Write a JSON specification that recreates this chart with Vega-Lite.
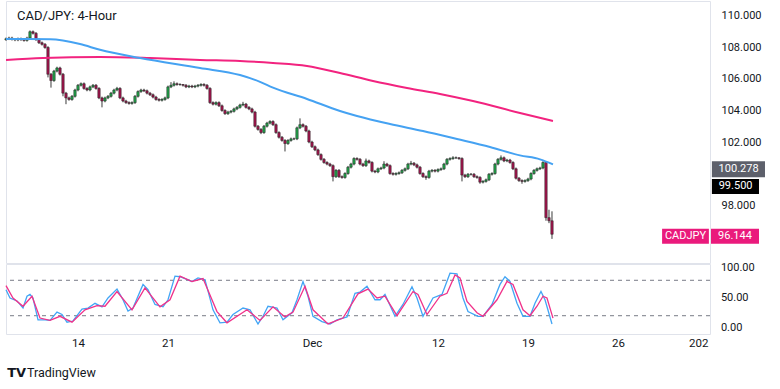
{
  "$schema": "https://vega.github.io/schema/vega-lite/v6.json",
  "background": "white",
  "padding": {"left": 1, "top": 0, "right": 10, "bottom": 5},
  "spacing": 1,
  "bounds": "flush",
  "config": {
    "view": {"stroke": "#e0e3eb", "strokeWidth": 1},
    "font": "Roboto",
    "scale": {"continuousPadding": 0},
    "axis": {"labelFont": "Roboto", "labelFontSize": 11, "labelColor": "#131722", "domain": false, "ticks": false, "tickSize": 0, "grid": false, "labelOverlap": false}
  },
  "datasets": {
    "candles": [
{"i":-24,"o":108.5,"h":108.63,"l":108.42,"c":108.55},
{"i":-23,"o":108.55,"h":108.68,"l":108.47,"c":108.6},
{"i":-22,"o":108.6,"h":108.68,"l":108.44,"c":108.52},
{"i":-21,"o":108.52,"h":108.6,"l":108.4,"c":108.48},
{"i":-20,"o":108.48,"h":108.63,"l":108.4,"c":108.55},
{"i":-19,"o":108.55,"h":108.63,"l":108.42,"c":108.5},
{"i":-18,"o":108.5,"h":108.58,"l":108.37,"c":108.45},
{"i":-17,"o":108.45,"h":108.68,"l":108.37,"c":108.6},
{"i":-16,"o":108.6,"h":109.08,"l":108.52,"c":109.0},
{"i":-15,"o":109.0,"h":109.08,"l":108.82,"c":108.9},
{"i":-14,"o":108.9,"h":108.98,"l":108.42,"c":108.5},
{"i":-13,"o":108.5,"h":108.58,"l":108.22,"c":108.3},
{"i":-12,"o":108.3,"h":108.38,"l":108.12,"c":108.2},
{"i":-11,"o":108.2,"h":108.28,"l":107.92,"c":108.0},
{"i":-10,"o":108.0,"h":108.08,"l":106.1,"c":106.3},
{"i":-9,"o":106.3,"h":106.38,"l":105.45,"c":105.9},
{"i":-8,"o":105.9,"h":106.58,"l":105.82,"c":106.5},
{"i":-7,"o":106.5,"h":106.78,"l":106.42,"c":106.7},
{"i":-6,"o":106.7,"h":106.78,"l":106.22,"c":106.3},
{"i":-5,"o":106.3,"h":106.38,"l":104.9,"c":105.1},
{"i":-4,"o":105.1,"h":105.18,"l":104.4,"c":104.8},
{"i":-3,"o":104.8,"h":104.88,"l":104.62,"c":104.7},
{"i":-2,"o":104.7,"h":104.98,"l":104.62,"c":104.9},
{"i":-1,"o":104.9,"h":105.38,"l":104.82,"c":105.3},
{"i":0,"o":105.3,"h":105.68,"l":105.22,"c":105.6},
{"i":1,"o":105.6,"h":105.78,"l":105.52,"c":105.7},
{"i":2,"o":105.7,"h":105.78,"l":105.32,"c":105.4},
{"i":3,"o":105.4,"h":105.48,"l":105.22,"c":105.3},
{"i":4,"o":105.3,"h":105.58,"l":105.22,"c":105.5},
{"i":5,"o":105.5,"h":105.68,"l":105.42,"c":105.6},
{"i":6,"o":105.6,"h":105.68,"l":105.32,"c":105.4},
{"i":7,"o":105.4,"h":105.48,"l":104.72,"c":104.8},
{"i":8,"o":104.8,"h":104.88,"l":104.2,"c":104.6},
{"i":9,"o":104.6,"h":104.88,"l":104.52,"c":104.8},
{"i":10,"o":104.8,"h":104.98,"l":104.72,"c":104.9},
{"i":11,"o":104.9,"h":105.18,"l":104.82,"c":105.1},
{"i":12,"o":105.1,"h":105.38,"l":105.02,"c":105.3},
{"i":13,"o":105.3,"h":105.5,"l":105.22,"c":105.4},
{"i":14,"o":105.4,"h":105.48,"l":104.72,"c":104.8},
{"i":15,"o":104.8,"h":104.88,"l":104.52,"c":104.6},
{"i":16,"o":104.6,"h":104.68,"l":104.42,"c":104.5},
{"i":17,"o":104.5,"h":104.58,"l":104.37,"c":104.45},
{"i":18,"o":104.45,"h":104.58,"l":104.37,"c":104.5},
{"i":19,"o":104.5,"h":104.98,"l":104.42,"c":104.9},
{"i":20,"o":104.9,"h":105.28,"l":104.82,"c":105.2},
{"i":21,"o":105.2,"h":105.38,"l":105.12,"c":105.3},
{"i":22,"o":105.3,"h":105.38,"l":105.17,"c":105.25},
{"i":23,"o":105.25,"h":105.33,"l":105.02,"c":105.1},
{"i":24,"o":105.1,"h":105.18,"l":104.92,"c":105.0},
{"i":25,"o":105.0,"h":105.08,"l":104.77,"c":104.85},
{"i":26,"o":104.85,"h":104.93,"l":104.62,"c":104.7},
{"i":27,"o":104.7,"h":104.78,"l":104.57,"c":104.65},
{"i":28,"o":104.65,"h":104.78,"l":104.57,"c":104.7},
{"i":29,"o":104.7,"h":104.88,"l":104.62,"c":104.8},
{"i":30,"o":104.8,"h":105.58,"l":104.72,"c":105.5},
{"i":31,"o":105.5,"h":105.8,"l":105.42,"c":105.6},
{"i":32,"o":105.6,"h":105.85,"l":105.52,"c":105.7},
{"i":33,"o":105.7,"h":105.78,"l":105.57,"c":105.65},
{"i":34,"o":105.65,"h":105.73,"l":105.57,"c":105.65},
{"i":35,"o":105.65,"h":105.68,"l":105.52,"c":105.6},
{"i":36,"o":105.6,"h":105.68,"l":105.42,"c":105.5},
{"i":37,"o":105.5,"h":105.63,"l":105.42,"c":105.55},
{"i":38,"o":105.55,"h":105.63,"l":105.42,"c":105.5},
{"i":39,"o":105.5,"h":105.63,"l":105.42,"c":105.55},
{"i":40,"o":105.55,"h":105.68,"l":105.47,"c":105.6},
{"i":41,"o":105.6,"h":105.73,"l":105.52,"c":105.65},
{"i":42,"o":105.65,"h":105.73,"l":105.52,"c":105.6},
{"i":43,"o":105.6,"h":105.68,"l":105.32,"c":105.4},
{"i":44,"o":105.4,"h":105.48,"l":104.42,"c":104.5},
{"i":45,"o":104.5,"h":104.58,"l":104.32,"c":104.4},
{"i":46,"o":104.4,"h":104.58,"l":104.32,"c":104.5},
{"i":47,"o":104.5,"h":104.58,"l":104.22,"c":104.3},
{"i":48,"o":104.3,"h":104.38,"l":103.92,"c":104.0},
{"i":49,"o":104.0,"h":104.08,"l":103.72,"c":103.8},
{"i":50,"o":103.8,"h":103.98,"l":103.72,"c":103.9},
{"i":51,"o":103.9,"h":104.03,"l":103.82,"c":103.95},
{"i":52,"o":103.95,"h":104.18,"l":103.87,"c":104.1},
{"i":53,"o":104.1,"h":104.28,"l":104.02,"c":104.2},
{"i":54,"o":104.2,"h":104.43,"l":104.12,"c":104.35},
{"i":55,"o":104.35,"h":104.55,"l":104.27,"c":104.4},
{"i":56,"o":104.4,"h":104.48,"l":104.12,"c":104.2},
{"i":57,"o":104.2,"h":104.28,"l":104.02,"c":104.1},
{"i":58,"o":104.1,"h":104.18,"l":103.82,"c":103.9},
{"i":59,"o":103.9,"h":103.98,"l":102.92,"c":103.0},
{"i":60,"o":103.0,"h":103.08,"l":102.72,"c":102.8},
{"i":61,"o":102.8,"h":102.88,"l":102.5,"c":102.6},
{"i":62,"o":102.6,"h":103.08,"l":102.52,"c":103.0},
{"i":63,"o":103.0,"h":103.28,"l":102.92,"c":103.2},
{"i":64,"o":103.2,"h":103.38,"l":103.12,"c":103.3},
{"i":65,"o":103.3,"h":103.38,"l":103.02,"c":103.1},
{"i":66,"o":103.1,"h":103.18,"l":102.52,"c":102.6},
{"i":67,"o":102.6,"h":102.68,"l":102.22,"c":102.3},
{"i":68,"o":102.3,"h":102.38,"l":102.02,"c":102.1},
{"i":69,"o":102.1,"h":102.18,"l":101.4,"c":101.9},
{"i":70,"o":101.9,"h":102.18,"l":101.82,"c":102.1},
{"i":71,"o":102.1,"h":102.28,"l":102.02,"c":102.2},
{"i":72,"o":102.2,"h":102.28,"l":102.12,"c":102.2},
{"i":73,"o":102.2,"h":102.98,"l":102.12,"c":102.9},
{"i":74,"o":102.9,"h":103.5,"l":102.82,"c":103.1},
{"i":75,"o":103.1,"h":103.18,"l":102.92,"c":103.0},
{"i":76,"o":103.0,"h":103.08,"l":102.62,"c":102.7},
{"i":77,"o":102.7,"h":102.78,"l":101.92,"c":102.0},
{"i":78,"o":102.0,"h":102.08,"l":101.62,"c":101.7},
{"i":79,"o":101.7,"h":101.78,"l":101.42,"c":101.5},
{"i":80,"o":101.5,"h":101.58,"l":101.12,"c":101.2},
{"i":81,"o":101.2,"h":101.28,"l":100.82,"c":100.9},
{"i":82,"o":100.9,"h":100.98,"l":100.62,"c":100.7},
{"i":83,"o":100.7,"h":100.78,"l":100.52,"c":100.6},
{"i":84,"o":100.6,"h":100.68,"l":100.42,"c":100.5},
{"i":85,"o":100.5,"h":100.58,"l":99.5,"c":99.8},
{"i":86,"o":99.8,"h":100.28,"l":99.72,"c":100.2},
{"i":87,"o":100.2,"h":100.28,"l":99.72,"c":99.8},
{"i":88,"o":99.8,"h":99.88,"l":99.67,"c":99.75},
{"i":89,"o":99.75,"h":100.08,"l":99.67,"c":100.0},
{"i":90,"o":100.0,"h":100.48,"l":99.92,"c":100.4},
{"i":91,"o":100.4,"h":100.68,"l":100.32,"c":100.6},
{"i":92,"o":100.6,"h":101.03,"l":100.52,"c":100.95},
{"i":93,"o":100.95,"h":101.03,"l":100.82,"c":100.9},
{"i":94,"o":100.9,"h":100.98,"l":100.52,"c":100.6},
{"i":95,"o":100.6,"h":100.68,"l":100.42,"c":100.5},
{"i":96,"o":100.5,"h":100.95,"l":100.42,"c":100.8},
{"i":97,"o":100.8,"h":100.88,"l":100.62,"c":100.7},
{"i":98,"o":100.7,"h":100.78,"l":100.07,"c":100.15},
{"i":99,"o":100.15,"h":100.23,"l":100.02,"c":100.1},
{"i":100,"o":100.1,"h":100.38,"l":100.02,"c":100.3},
{"i":101,"o":100.3,"h":100.43,"l":100.22,"c":100.35},
{"i":102,"o":100.35,"h":100.78,"l":100.27,"c":100.6},
{"i":103,"o":100.6,"h":100.68,"l":100.42,"c":100.5},
{"i":104,"o":100.5,"h":100.58,"l":99.92,"c":100.0},
{"i":105,"o":100.0,"h":100.08,"l":99.87,"c":99.95},
{"i":106,"o":99.95,"h":100.08,"l":99.87,"c":100.0},
{"i":107,"o":100.0,"h":100.13,"l":99.92,"c":100.05},
{"i":108,"o":100.05,"h":100.28,"l":99.97,"c":100.2},
{"i":109,"o":100.2,"h":100.38,"l":100.12,"c":100.3},
{"i":110,"o":100.3,"h":100.68,"l":100.22,"c":100.6},
{"i":111,"o":100.6,"h":100.8,"l":100.52,"c":100.65},
{"i":112,"o":100.65,"h":100.73,"l":100.47,"c":100.55},
{"i":113,"o":100.55,"h":100.63,"l":100.32,"c":100.4},
{"i":114,"o":100.4,"h":100.48,"l":99.92,"c":100.0},
{"i":115,"o":100.0,"h":100.08,"l":99.72,"c":99.8},
{"i":116,"o":99.8,"h":99.88,"l":99.6,"c":99.75},
{"i":117,"o":99.75,"h":100.23,"l":99.67,"c":100.15},
{"i":118,"o":100.15,"h":100.28,"l":100.07,"c":100.2},
{"i":119,"o":100.2,"h":100.28,"l":100.07,"c":100.15},
{"i":120,"o":100.15,"h":100.33,"l":100.07,"c":100.25},
{"i":121,"o":100.25,"h":100.38,"l":100.17,"c":100.3},
{"i":122,"o":100.3,"h":100.68,"l":100.22,"c":100.6},
{"i":123,"o":100.6,"h":100.98,"l":100.52,"c":100.9},
{"i":124,"o":100.9,"h":101.03,"l":100.82,"c":100.95},
{"i":125,"o":100.95,"h":101.1,"l":100.87,"c":101.0},
{"i":126,"o":101.0,"h":101.08,"l":100.92,"c":101.0},
{"i":127,"o":101.0,"h":101.03,"l":100.87,"c":100.95},
{"i":128,"o":100.95,"h":101.03,"l":99.5,"c":99.9},
{"i":129,"o":99.9,"h":99.98,"l":99.72,"c":99.8},
{"i":130,"o":99.8,"h":100.03,"l":99.72,"c":99.95},
{"i":131,"o":99.95,"h":100.03,"l":99.87,"c":99.95},
{"i":132,"o":99.95,"h":100.03,"l":99.72,"c":99.8},
{"i":133,"o":99.8,"h":99.88,"l":99.67,"c":99.75},
{"i":134,"o":99.75,"h":99.83,"l":99.35,"c":99.45},
{"i":135,"o":99.45,"h":99.58,"l":99.37,"c":99.5},
{"i":136,"o":99.5,"h":99.68,"l":99.42,"c":99.6},
{"i":137,"o":99.6,"h":100.03,"l":99.52,"c":99.95},
{"i":138,"o":99.95,"h":100.08,"l":99.87,"c":100.0},
{"i":139,"o":100.0,"h":100.68,"l":99.92,"c":100.6},
{"i":140,"o":100.6,"h":100.98,"l":100.52,"c":100.9},
{"i":141,"o":100.9,"h":101.15,"l":100.82,"c":101.0},
{"i":142,"o":101.0,"h":101.08,"l":100.72,"c":100.8},
{"i":143,"o":100.8,"h":100.93,"l":100.72,"c":100.85},
{"i":144,"o":100.85,"h":100.93,"l":100.62,"c":100.7},
{"i":145,"o":100.7,"h":100.78,"l":100.22,"c":100.3},
{"i":146,"o":100.3,"h":100.38,"l":99.62,"c":99.7},
{"i":147,"o":99.7,"h":99.78,"l":99.47,"c":99.55},
{"i":148,"o":99.55,"h":99.63,"l":99.35,"c":99.5},
{"i":149,"o":99.5,"h":99.63,"l":99.42,"c":99.55},
{"i":150,"o":99.55,"h":99.73,"l":99.47,"c":99.65},
{"i":151,"o":99.65,"h":100.08,"l":99.57,"c":100.0},
{"i":152,"o":100.0,"h":100.28,"l":99.92,"c":100.2},
{"i":153,"o":100.2,"h":100.38,"l":100.12,"c":100.3},
{"i":154,"o":100.3,"h":100.43,"l":100.22,"c":100.35},
{"i":155,"o":100.35,"h":100.78,"l":100.27,"c":100.7},
{"i":156,"o":100.7,"h":100.78,"l":97.0,"c":97.2},
{"i":157,"o":97.2,"h":97.7,"l":96.85,"c":97.0},
{"i":158,"o":97.0,"h":97.6,"l":95.85,"c":96.144}
    ],
    "ma100": [
      {"i":-24,"p":108.54},{"i":-9.33,"p":108.52},{"i":0.67,"p":108.22},{"i":7.33,"p":107.85},{"i":20.67,"p":107.33},{"i":40.67,"p":106.7},{"i":54,"p":106.25},{"i":60.67,"p":105.82},{"i":65,"p":105.45},{"i":76.33,"p":104.73},{"i":87.33,"p":103.97},{"i":93,"p":103.65},{"i":104,"p":103.14},{"i":115,"p":102.7},{"i":126.33,"p":102.19},{"i":137.33,"p":101.68},{"i":147.33,"p":101.15},{"i":154,"p":100.9},{"i":158.33,"p":100.58}
    ],
    "ma200": [
      {"i":-24,"p":107.21},{"i":-11.67,"p":107.33},{"i":7.33,"p":107.4},{"i":24,"p":107.33},{"i":40.67,"p":107.21},{"i":54,"p":107.14},{"i":65,"p":107.02},{"i":76.33,"p":106.83},{"i":87.33,"p":106.38},{"i":98.33,"p":105.87},{"i":109.67,"p":105.43},{"i":120.67,"p":105.05},{"i":131.67,"p":104.6},{"i":147.33,"p":103.84},{"i":158.33,"p":103.33}
    ],
    "stochK": [
      {"i":-24,"v":64},{"i":-22.67,"v":50},{"i":-20.33,"v":45},{"i":-18.33,"v":33},{"i":-17,"v":53},{"i":-16,"v":56},{"i":-15,"v":50},{"i":-13.33,"v":13},{"i":-11,"v":13},{"i":-9.33,"v":12},{"i":-7,"v":26},{"i":-5.33,"v":22},{"i":-3.67,"v":9},{"i":-1.67,"v":11},{"i":1.33,"v":31},{"i":3.33,"v":33},{"i":5.67,"v":41},{"i":8,"v":35},{"i":10,"v":50},{"i":13,"v":65},{"i":15,"v":47},{"i":16.67,"v":28},{"i":18.33,"v":33},{"i":21.67,"v":73},{"i":23.33,"v":64},{"i":25.67,"v":39},{"i":28.33,"v":35},{"i":30,"v":47},{"i":32.33,"v":87},{"i":34,"v":86},{"i":38,"v":78},{"i":40,"v":84},{"i":42.33,"v":81},{"i":45,"v":30},{"i":47.33,"v":8},{"i":49.67,"v":9},{"i":51.67,"v":22},{"i":55,"v":33},{"i":57.33,"v":30},{"i":60,"v":6},{"i":61.67,"v":19},{"i":63.33,"v":36},{"i":66.33,"v":33},{"i":68.33,"v":13},{"i":71.33,"v":25},{"i":73,"v":47},{"i":75,"v":78},{"i":76.67,"v":53},{"i":78.33,"v":19},{"i":81.33,"v":10},{"i":84,"v":6},{"i":86.33,"v":13},{"i":89.67,"v":18},{"i":92.33,"v":58},{"i":94,"v":60},{"i":96.33,"v":70},{"i":99,"v":47},{"i":100.67,"v":47},{"i":102.33,"v":56},{"i":105.67,"v":19},{"i":108.33,"v":39},{"i":111.33,"v":69},{"i":113,"v":50},{"i":115,"v":19},{"i":118.33,"v":50},{"i":121.33,"v":56},{"i":124,"v":92},{"i":126.33,"v":91},{"i":128.33,"v":50},{"i":130,"v":27},{"i":133.33,"v":19},{"i":135,"v":19},{"i":138,"v":39},{"i":140.67,"v":73},{"i":142.33,"v":86},{"i":144,"v":78},{"i":146.33,"v":41},{"i":148.33,"v":19},{"i":150.67,"v":19},{"i":152.33,"v":41},{"i":154.33,"v":61},{"i":155.67,"v":47},{"i":158,"v":6}
    ],
    "stochD": [
      {"i":-24,"v":71},{"i":-21.67,"v":50},{"i":-18.33,"v":36},{"i":-15.33,"v":53},{"i":-12.67,"v":16},{"i":-9.33,"v":12},{"i":-6,"v":19},{"i":-2,"v":9},{"i":2.33,"v":30},{"i":6.33,"v":37},{"i":9,"v":36},{"i":13,"v":61},{"i":18,"v":30},{"i":22.33,"v":67},{"i":27.33,"v":35},{"i":30.67,"v":47},{"i":34,"v":87},{"i":38,"v":78},{"i":41.67,"v":83},{"i":46.33,"v":27},{"i":49.67,"v":8},{"i":56.33,"v":30},{"i":60.67,"v":12},{"i":65,"v":35},{"i":69,"v":18},{"i":71.67,"v":26},{"i":75.67,"v":70},{"i":78.33,"v":30},{"i":83.33,"v":6},{"i":88.33,"v":16},{"i":93.33,"v":57},{"i":96.67,"v":65},{"i":99.67,"v":50},{"i":102.33,"v":53},{"i":106.33,"v":20},{"i":111.67,"v":61},{"i":113.33,"v":56},{"i":116.33,"v":22},{"i":120.67,"v":53},{"i":123,"v":58},{"i":125.67,"v":89},{"i":127.33,"v":84},{"i":129.67,"v":44},{"i":133,"v":25},{"i":135,"v":19},{"i":139.67,"v":47},{"i":143,"v":78},{"i":145,"v":73},{"i":148.33,"v":30},{"i":150.67,"v":20},{"i":153,"v":36},{"i":155,"v":53},{"i":156.33,"v":50},{"i":158.33,"v":16}
    ]
  },
  "vconcat": [
    {
      "width": 704,
      "height": 262,
      "layer": [
        {
          "mark": {"type": "rule", "color": "#7b7e87", "strokeWidth": 1.6},
          "encoding": {
            "y": {"datum": 99.5, "type": "quantitative", "scale": {"domain": [94.32, 110.95], "nice": false, "zero": false, "padding": 0},
                  "axis": {"title": null, "orient": "right", "values": [98, 102, 104, 106, 108, 110], "format": ".3f", "labelPadding": 11}}
          }
        },
        {
          "data": {"name": "candles"},
          "mark": {"type": "rule", "color": "#3a3a3a", "strokeWidth": 1},
          "encoding": {
            "x": {"field": "i", "type": "quantitative", "scale": {"domain": [-24, 210.67], "nice": false, "zero": false, "padding": 0}, "axis": null},
            "y": {"field": "l", "type": "quantitative", "title": null},
            "y2": {"field": "h"}
          }
        },
        {
          "data": {"name": "candles"},
          "mark": {"type": "bar", "size": 2.4, "stroke": "#1e1e1e", "strokeWidth": 0.5},
          "encoding": {
            "x": {"field": "i", "type": "quantitative", "axis": null},
            "y": {"field": "o", "type": "quantitative", "title": null},
            "y2": {"field": "c"},
            "color": {"condition": {"test": "datum.c >= datum.o", "value": "#22a34a"}, "value": "#a3154d"}
          }
        },
        {
          "data": {"name": "ma200"},
          "mark": {"type": "line", "color": "#f2237f", "strokeWidth": 2, "interpolate": "monotone"},
          "encoding": {
            "x": {"field": "i", "type": "quantitative", "axis": null},
            "y": {"field": "p", "type": "quantitative", "title": null}
          }
        },
        {
          "data": {"name": "ma100"},
          "mark": {"type": "line", "color": "#45a2f2", "strokeWidth": 2, "interpolate": "monotone"},
          "encoding": {
            "x": {"field": "i", "type": "quantitative", "axis": null},
            "y": {"field": "p", "type": "quantitative", "title": null}
          }
        },
        {
          "data": {"values": [{"t": "CAD/JPY: 4-Hour"}]},
          "mark": {"type": "text", "align": "left", "baseline": "middle", "fontSize": 13, "color": "#131722", "font": "Roboto"},
          "encoding": {
            "x": {"datum": -20.3, "type": "quantitative"},
            "y": {"datum": 110.0, "type": "quantitative"},
            "text": {"field": "t"}
          }
        },
        {
          "data": {"values": [{"tag": "100.278", "p": 100.278}]},
          "layer": [
            {
              "mark": {"type": "rect", "color": "#5d606b", "yOffset": -8, "y2Offset": 8},
              "encoding": {
                "x": {"datum": 211.3, "type": "quantitative"},
                "x2": {"datum": 229.0},
                "y": {"field": "p", "type": "quantitative", "title": null},
                "y2": {"field": "p"}
              }
            },
            {
              "mark": {"type": "text", "color": "white", "fontSize": 11, "font": "Roboto", "baseline": "middle"},
              "encoding": {
                "x": {"datum": 220.2, "type": "quantitative"},
                "y": {"field": "p", "type": "quantitative", "title": null},
                "text": {"field": "tag"}
              }
            }
          ]
        },
        {
          "data": {"values": [{"tag": "99.500", "p": 99.5}]},
          "layer": [
            {
              "mark": {"type": "rect", "color": "#000000", "yOffset": -2.5, "y2Offset": 12.5},
              "encoding": {
                "x": {"datum": 211.3, "type": "quantitative"},
                "x2": {"datum": 227.0},
                "y": {"field": "p", "type": "quantitative", "title": null},
                "y2": {"field": "p"}
              }
            },
            {
              "mark": {"type": "text", "color": "white", "fontSize": 11, "font": "Roboto", "baseline": "middle", "dy": 5},
              "encoding": {
                "x": {"datum": 219.2, "type": "quantitative"},
                "y": {"field": "p", "type": "quantitative", "title": null},
                "text": {"field": "tag"}
              }
            }
          ]
        },
        {
          "data": {"values": [{"tag": "96.144", "name": "CADJPY", "p": 96.144}]},
          "layer": [
            {
              "mark": {"type": "rect", "color": "#ea1a7c", "yOffset": -5.5, "y2Offset": 9.5},
              "encoding": {
                "x": {"datum": 211.0, "type": "quantitative"},
                "x2": {"datum": 227.0},
                "y": {"field": "p", "type": "quantitative", "title": null},
                "y2": {"field": "p"}
              }
            },
            {
              "mark": {"type": "rect", "color": "#ea1a7c", "yOffset": -5.5, "y2Offset": 9.5},
              "encoding": {
                "x": {"datum": 194.7, "type": "quantitative"},
                "x2": {"datum": 210.3},
                "y": {"field": "p", "type": "quantitative", "title": null},
                "y2": {"field": "p"}
              }
            },
            {
              "mark": {"type": "text", "color": "white", "fontSize": 11, "font": "Roboto", "baseline": "middle", "dy": 2},
              "encoding": {
                "x": {"datum": 219.0, "type": "quantitative"},
                "y": {"field": "p", "type": "quantitative", "title": null},
                "text": {"field": "tag"}
              }
            },
            {
              "mark": {"type": "text", "color": "white", "fontSize": 11, "font": "Roboto", "baseline": "middle", "dy": 2},
              "encoding": {
                "x": {"datum": 202.5, "type": "quantitative"},
                "y": {"field": "p", "type": "quantitative", "title": null},
                "text": {"field": "name"}
              }
            }
          ]
        }
      ]
    },
    {
      "width": 704,
      "height": 70,
      "layer": [
        {
          "data": {"values": [{"lvl": 80}, {"lvl": 20}]},
          "mark": {"type": "rule", "color": "#787b86", "strokeWidth": 1, "strokeDash": [4, 4]},
          "encoding": {
            "y": {"field": "lvl", "type": "quantitative", "scale": {"domain": [-11, 107.6], "nice": false, "zero": false, "padding": 0}, "axis": null}
          }
        },
        {
          "data": {"values": [{"s": 0, "lab": "0.00"}, {"s": 50, "lab": "50.00"}, {"s": 100, "lab": "100.00"}]},
          "mark": {"type": "text", "align": "left", "baseline": "middle", "fontSize": 11, "color": "#131722", "font": "Roboto"},
          "encoding": {
            "x": {"datum": 214.3, "type": "quantitative"},
            "y": {"field": "s", "type": "quantitative", "axis": null},
            "text": {"field": "lab"}
          }
        },
        {
          "data": {"name": "stochK"},
          "mark": {"type": "line", "color": "#42a5f5", "strokeWidth": 1.3},
          "encoding": {
            "x": {"field": "i", "type": "quantitative", "scale": {"domain": [-24, 210.67], "nice": false, "zero": false, "padding": 0},
                  "axis": {"title": null, "orient": "bottom", "values": [0, 30, 78, 120, 150, 180, 210],
                           "labelExpr": "datum.value == 0 ? '14' : datum.value == 30 ? '21' : datum.value == 78 ? 'Dec' : datum.value == 120 ? '12' : datum.value == 150 ? '19' : datum.value == 180 ? '26' : '202'",
                           "labelAlign": {"expr": "datum.value > 200 ? 'right' : 'center'"},
                           "labelPadding": 3, "labelFlush": false, "labelOverlap": false, "labelFontSize": 11.5}},
            "y": {"field": "v", "type": "quantitative", "axis": null}
          }
        },
        {
          "data": {"name": "stochD"},
          "mark": {"type": "line", "color": "#f0328a", "strokeWidth": 1.3},
          "encoding": {
            "x": {"field": "i", "type": "quantitative"},
            "y": {"field": "v", "type": "quantitative", "axis": null}
          }
        },
        {
          "data": {"values": [{"t": "TradingView", "logo": "TV"}]},
          "layer": [
            {
              "mark": {"type": "text", "align": "left", "baseline": "middle", "fontSize": 12.5, "color": "#131722", "font": "Roboto"},
              "encoding": {
                "x": {"datum": -17.0, "type": "quantitative"},
                "y": {"datum": -77, "type": "quantitative"},
                "text": {"field": "t"}
              }
            },
            {
              "mark": {"type": "text", "align": "left", "baseline": "middle", "fontSize": 13, "fontWeight": 900, "color": "#131722", "font": "DejaVu Sans"},
              "encoding": {
                "x": {"datum": -23.6, "type": "quantitative"},
                "y": {"datum": -77, "type": "quantitative"},
                "text": {"field": "logo"}
              }
            }
          ]
        }
      ]
    }
  ]
}
